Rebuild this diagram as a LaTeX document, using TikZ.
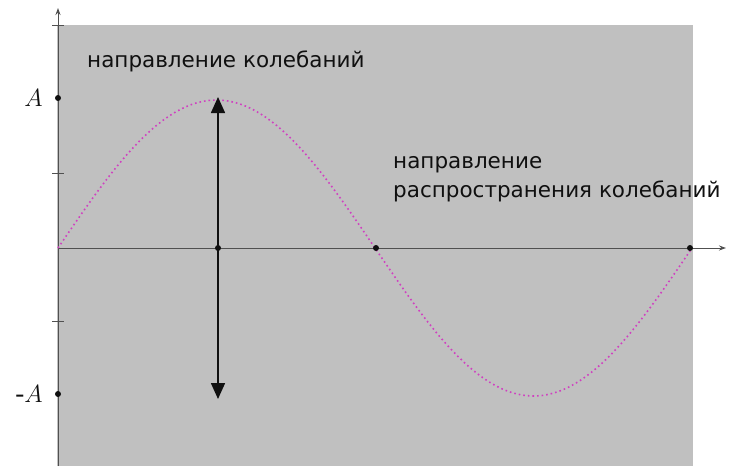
\documentclass[tikz,border=0pt]{standalone}
\usepackage{fontspec}
\setsansfont{DejaVu Sans}
\newfontfamily\ampfont{Liberation Serif}
\usetikzlibrary{arrows.meta,positioning}
\definecolor{Canvas}{HTML}{C0C0C0}
\definecolor{Axis}{HTML}{505050}
\definecolor{Wave}{HTML}{D040C0}
\definecolor{Ink}{HTML}{101010}
\tikzset{
  axisline/.style={draw=Axis,line width=1pt,-{Stealth[length=7pt,width=5pt]}},
  vibarrow/.style={draw=Ink,line width=1.6pt,{Triangle[length=16pt,width=14pt]}-{Triangle[length=16pt,width=14pt]}},
  wave/.style={draw=Wave,line width=1.6pt,dash pattern=on 1.6pt off 3pt},
  pointdot/.style={circle,fill=Ink,inner sep=0pt,minimum size=6pt},
  tickmark/.style={draw=Axis,line width=0.8pt},
  caption/.style={font=\sffamily\fontsize{21.5}{29}\selectfont,text=Ink,align=left,inner sep=0pt},
  amplabel/.style={font=\ampfont\itshape\fontsize{27}{27}\selectfont,text=Ink,inner sep=0pt}
}
\begin{document}
\begin{tikzpicture}[x=1pt,y=-1pt]
  \useasboundingbox (0,0) rectangle (735,466);
  \fill[Canvas] (57,25) rectangle (693,466);

  % axes
  \coordinate (ybot) at (58,466);
  \coordinate (ytop) at (58,8);
  \coordinate (O) at (58,248);
  \coordinate (xend) at (726,248);
  \draw[axisline] (ybot) -- (ytop);
  \draw[axisline] (O) -- (xend);
  \foreach \yy in {25,173,321}
    \draw[tickmark] (52,\yy) -- (64,\yy);

  % amplitude marks
  \node[pointdot] (pA) at (58,98) {};
  \node[pointdot] (mA) at (58,394) {};
  \node[amplabel,left=12pt of pA] (lA) {$A$};
  \node[amplabel,left=12pt of mA] (lmA) {-$A$};

  % wave
  \draw[wave] plot[domain=0:634,samples=120] ({58+\x},{248-148*sin(\x/634*360)});

  % zero crossings
  \node[pointdot] (z1) at (376,248) {};
  \node[pointdot] (z2) at (690,248) {};

  % direction of oscillation
  \node[pointdot] (mid) at (218,248) {};
  \coordinate (vtop) at (218,97);
  \coordinate (vbot) at (218,399);
  \draw[vibarrow] (vbot) -- (vtop);

  \node[caption,anchor=base west] (osc) at (87,67) {направление колебаний};
  \node[caption,anchor=base west] (prop) at (393,197) {направление\\распространения колебаний};
\end{tikzpicture}
\end{document}
